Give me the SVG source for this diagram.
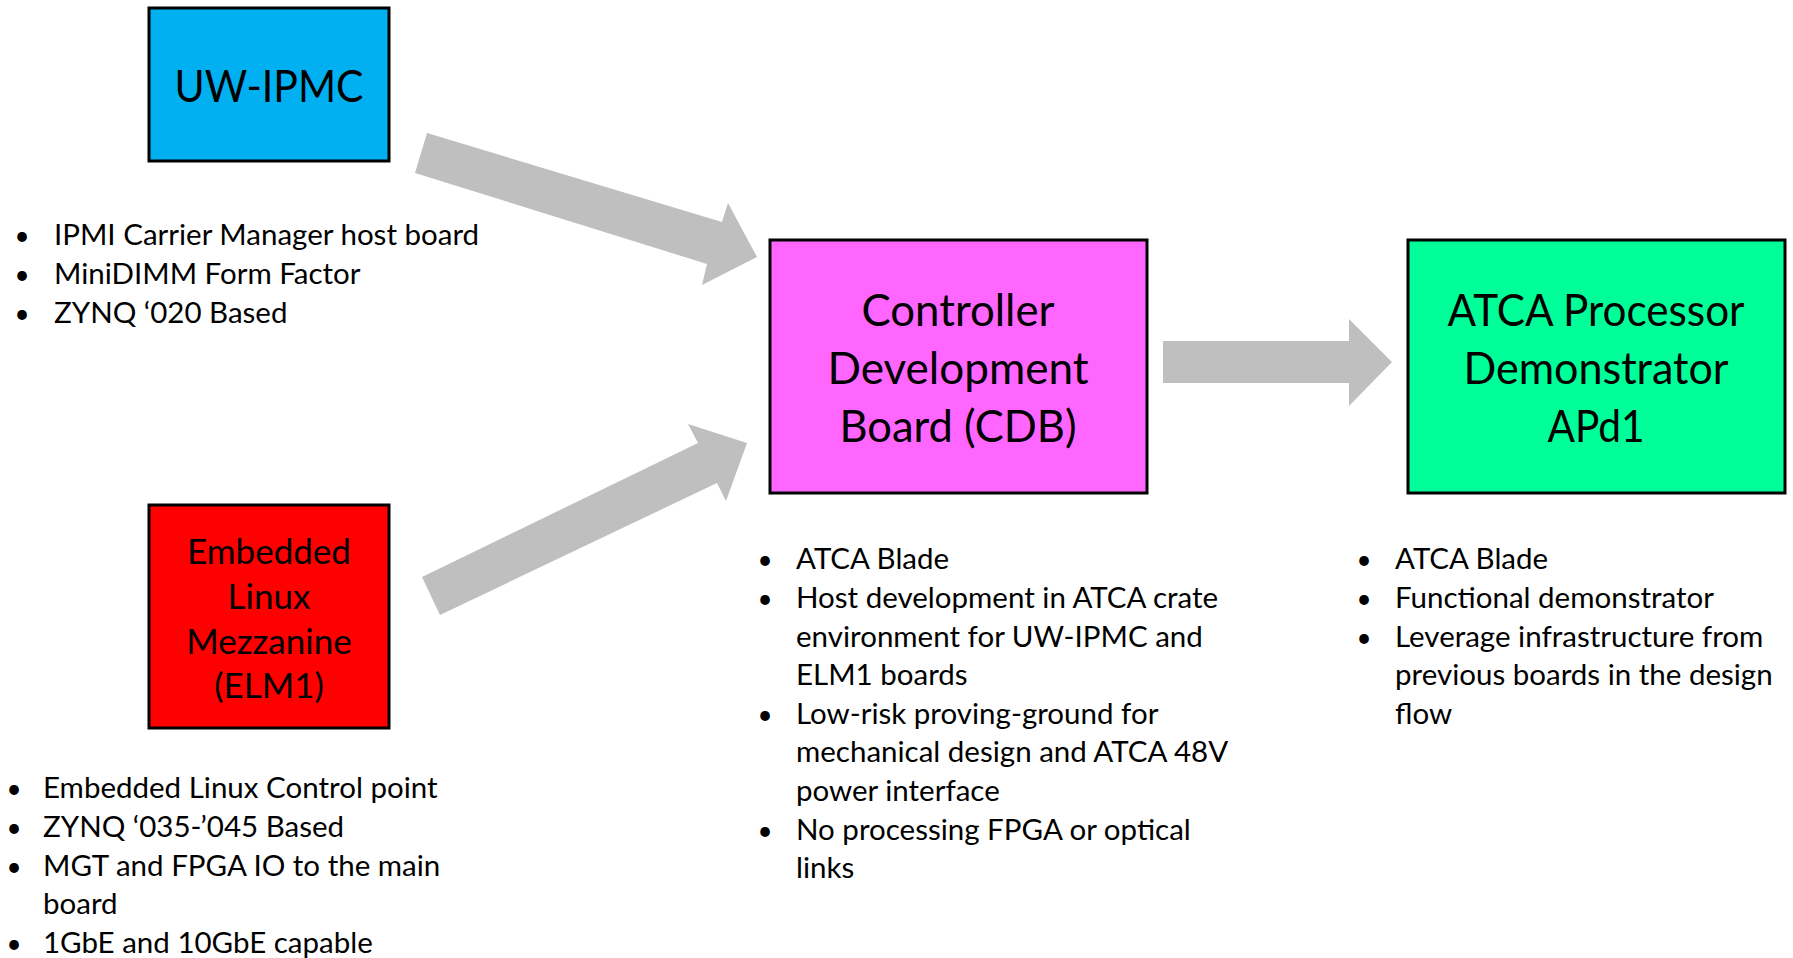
<svg xmlns="http://www.w3.org/2000/svg" width="1793" height="958" viewBox="0 0 1793 958">
<style>
  .box { stroke: #000; stroke-width: 3; }
  .title { font-family: Lato, "Liberation Sans", sans-serif; font-size: 45px; fill: #000; text-anchor: middle; }
  .title-s { font-family: Lato, "Liberation Sans", sans-serif; font-size: 35px; fill: #000; text-anchor: middle; }
  .txt { font-family: Lato, "Liberation Sans", sans-serif; font-size: 29.5px; fill: #000; }
  .bul { font-family: Lato, "Liberation Sans", sans-serif; font-size: 26px; fill: #000; text-anchor: middle; }
  .arrow { fill: #BFBFBF; }
</style>
<rect width="1793" height="958" fill="#fff"/>
<g id="connectors">
  <polygon class="arrow" points="427,133 722,222 728,203 757,257 702,285 707,264 415,173"/>
  <polygon class="arrow" points="440,615 717,483 726,501 747,443 688,424 698,443 422,577"/>
  <polygon class="arrow" points="1163,341 1349,341 1349,319 1392,362 1349,406 1349,383 1163,383"/>
</g>
<g id="uw-ipmc">
  <rect class="box" x="149" y="8" width="240" height="153" fill="#00B0F0"/>
  <text class="title" x="269" y="102" textLength="189" lengthAdjust="spacingAndGlyphs">UW-IPMC</text>
  <text class="bul" x="22" y="245">•</text><text class="txt" x="54" y="245">IPMI Carrier Manager host board</text>
  <text class="bul" x="22" y="284">•</text><text class="txt" x="54" y="284">MiniDIMM Form Factor</text>
  <text class="bul" x="22" y="323">•</text><text class="txt" x="54" y="323">ZYNQ ‘020 Based</text>
</g>
<g id="elm1">
  <rect class="box" x="149" y="505" width="240" height="223" fill="#FF0000"/>
  <text class="title-s" x="269" y="564">Embedded</text>
  <text class="title-s" x="269" y="609">Linux</text>
  <text class="title-s" x="269" y="654">Mezzanine</text>
  <text class="title-s" x="269" y="698">(ELM1)</text>
  <text class="bul" x="14" y="798">•</text><text class="txt" x="43" y="798">Embedded Linux Control point</text>
  <text class="bul" x="14" y="837">•</text><text class="txt" x="43" y="837">ZYNQ ‘035-’045 Based</text>
  <text class="bul" x="14" y="876">•</text><text class="txt" x="43" y="876">MGT and FPGA IO to the main</text>
  <text class="txt" x="43" y="914">board</text>
  <text class="bul" x="14" y="953">•</text><text class="txt" x="43" y="953">1GbE and 10GbE capable</text>
</g>
<g id="cdb">
  <rect class="box" x="770" y="240" width="377" height="253" fill="#FF66FF"/>
  <text class="title" x="958" y="326" textLength="193" lengthAdjust="spacingAndGlyphs">Controller</text>
  <text class="title" x="958" y="384" textLength="261" lengthAdjust="spacingAndGlyphs">Development</text>
  <text class="title" x="958" y="442" textLength="237" lengthAdjust="spacingAndGlyphs">Board (CDB)</text>
  <text class="bul" x="765" y="569">•</text><text class="txt" x="796" y="569">ATCA Blade</text>
  <text class="bul" x="765" y="608">•</text><text class="txt" x="796" y="608">Host development in ATCA crate</text>
  <text class="txt" x="796" y="647">environment for UW-IPMC and</text>
  <text class="txt" x="796" y="685">ELM1 boards</text>
  <text class="bul" x="765" y="724">•</text><text class="txt" x="796" y="724">Low-risk proving-ground for</text>
  <text class="txt" x="796" y="762">mechanical design and ATCA 48V</text>
  <text class="txt" x="796" y="801">power interface</text>
  <text class="bul" x="765" y="840">•</text><text class="txt" x="796" y="840">No processing FPGA or optical</text>
  <text class="txt" x="796" y="878">links</text>
</g>
<g id="apd1">
  <rect class="box" x="1408" y="240" width="377" height="253" fill="#00FF99"/>
  <text class="title" x="1596" y="326" textLength="297" lengthAdjust="spacingAndGlyphs">ATCA Processor</text>
  <text class="title" x="1596" y="384" textLength="265" lengthAdjust="spacingAndGlyphs">Demonstrator</text>
  <text class="title" x="1596" y="442" textLength="97" lengthAdjust="spacingAndGlyphs">APd1</text>
  <text class="bul" x="1364" y="569">•</text><text class="txt" x="1395" y="569">ATCA Blade</text>
  <text class="bul" x="1364" y="608">•</text><text class="txt" x="1395" y="608">Functional demonstrator</text>
  <text class="bul" x="1364" y="647">•</text><text class="txt" x="1395" y="647">Leverage infrastructure from</text>
  <text class="txt" x="1395" y="685">previous boards in the design</text>
  <text class="txt" x="1395" y="724">flow</text>
</g>
</svg>
